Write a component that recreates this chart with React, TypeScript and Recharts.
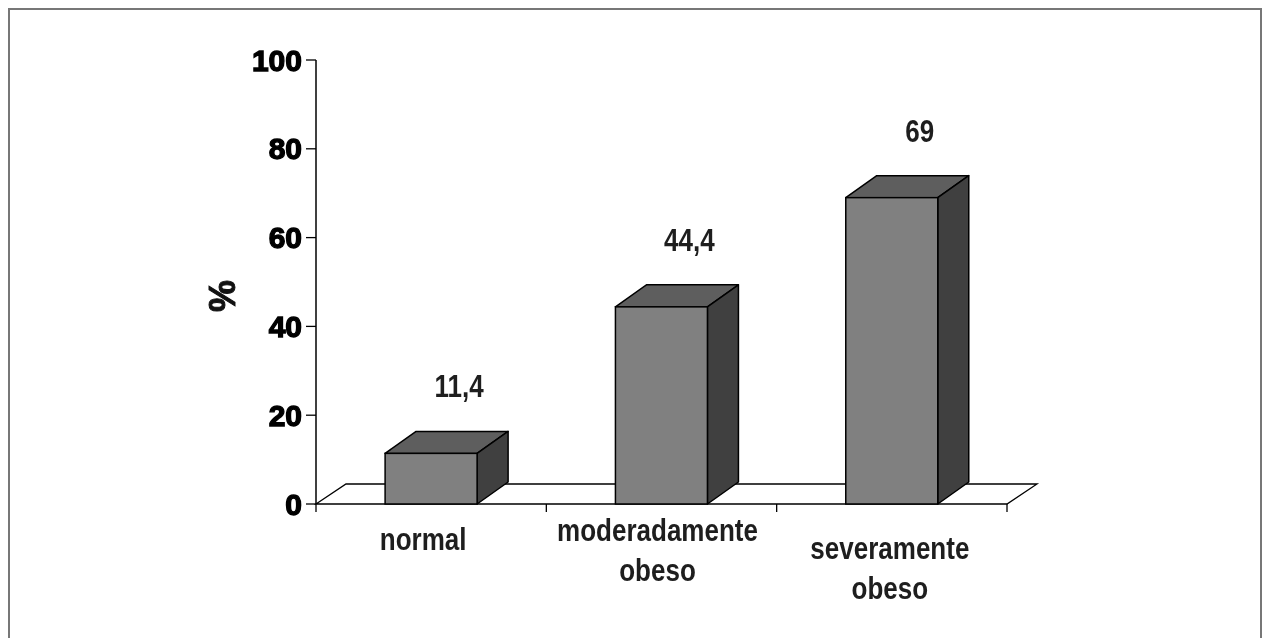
import React from 'react'
import * as R from 'recharts'

const { BarChart, Bar, XAxis, YAxis, LabelList } = R

// percentual por categoria de peso
const categories = ['normal', 'moderadamente obeso', 'severamente obeso']
const percentages = [11.4, 44.4, 69]
const yTicks = [0, 20, 40, 60, 80, 100]

const data = categories.map((name, i) => ({ name, value: percentages[i] }))

const W = 1250
const H = 622
const MARGIN = { top: 52, right: 251, bottom: 16, left: 208 }
const Y_AXIS_W = 100
const X_AXIS_H = 110

// profundidade do efeito 3D (barras e piso)
const DEPTH = { dx: 31, dy: -22 }
const FLOOR = { dx: 30, dy: -20 }

const FACE = '#808080'
const TOP = '#5e5e5e'
const SIDE = '#404040'
const EDGE = '#000'

const SANS = "'Liberation Sans', Arial, sans-serif"
// fonte estreita simulada com escala horizontal
const NARROW_SCALE = 0.84

// ajuste fino dos rótulos de categoria
const LABEL_NUDGE = [
  { dx: -8, dy: 0 },
  { dx: -4, dy: -9 },
  { dx: -2, dy: 9 },
]

const usePlot: () => any = (R as any).usePlotArea ?? (() => null)

function Floor() {
  const area = usePlot()
  const left = area?.x ?? MARGIN.left + Y_AXIS_W
  const top = area?.y ?? MARGIN.top
  const width = area?.width ?? W - MARGIN.left - Y_AXIS_W - MARGIN.right
  const height = area?.height ?? H - MARGIN.top - MARGIN.bottom - X_AXIS_H
  const bottom = top + height
  const right = left + width
  const pts = [
    [left, bottom],
    [left + FLOOR.dx, bottom + FLOOR.dy],
    [right + FLOOR.dx, bottom + FLOOR.dy],
    [right, bottom],
  ]
    .map((p) => p.join(','))
    .join(' ')
  const marks = [0, 1, 2, 3].map((i) => left + (i * width) / 3)
  return (
    <g>
      <polygon points={pts} fill="#fff" stroke={EDGE} strokeWidth={1.3} />
      {marks.map((mx, i) => (
        <line key={i} x1={mx} x2={mx} y1={bottom} y2={bottom + 8} stroke={EDGE} strokeWidth={1.3} />
      ))}
    </g>
  )
}

function Box3D(props: any) {
  const { x, y, width, height } = props
  if (width == null || height == null) return null
  const { dx, dy } = DEPTH
  const b = y + height
  const r = x + width
  return (
    <g>
      <polygon
        points={`${x},${y} ${x + dx},${y + dy} ${r + dx},${y + dy} ${r},${y}`}
        fill={TOP}
        stroke={EDGE}
        strokeWidth={1.5}
        strokeLinejoin="round"
      />
      <polygon
        points={`${r},${y} ${r + dx},${y + dy} ${r + dx},${b + dy} ${r},${b}`}
        fill={SIDE}
        stroke={EDGE}
        strokeWidth={1.5}
        strokeLinejoin="round"
      />
      <rect x={x} y={y} width={width} height={height} fill={FACE} stroke={EDGE} strokeWidth={1.5} />
    </g>
  )
}

function NarrowText({ x, y, lines, gap = 40 }: { x: number; y: number; lines: string[]; gap?: number }) {
  return (
    <g transform={`translate(${x},${y}) scale(${NARROW_SCALE},1)`}>
      <text x={0} y={0} textAnchor="middle" fontFamily={SANS} fontWeight={700} fontSize={31} fill="#1e1e1e">
        {lines.map((l, i) => (
          <tspan key={i} x={0} dy={i === 0 ? 0 : gap}>
            {l}
          </tspan>
        ))}
      </text>
    </g>
  )
}

function ValueLabel(props: any) {
  const { x, y, width, value } = props
  return <NarrowText x={x + width / 2 + 28} y={y - 56} lines={[String(value).replace('.', ',')]} />
}

function CategoryTick(props: any) {
  const { x, y, payload, index } = props
  const lines: string[] = String(payload.value).split(' ')
  const n = LABEL_NUDGE[index] ?? { dx: 0, dy: 0 }
  return <NarrowText x={x + n.dx} y={y + 46 + n.dy} lines={lines} />
}

function PercentLabel(props: any) {
  const vb = props.viewBox ?? { x: MARGIN.left, y: MARGIN.top, width: Y_AXIS_W, height: 444 }
  const cx = vb.x + 6
  const cy = vb.y + vb.height / 2 + 14
  return (
    <text
      x={cx}
      y={cy}
      transform={`rotate(-90 ${cx} ${cy})`}
      textAnchor="middle"
      dominantBaseline="central"
      fontFamily={SANS}
      fontWeight={700}
      fontSize={36}
      fill="#111"
      stroke="#111"
      strokeWidth={1}
    >
      %
    </text>
  )
}

export default function App() {
  return (
    <div style={{ position: 'relative', width: W, height: H }}>
      <div
        style={{
          position: 'fixed',
          left: 8,
          top: 8,
          width: 1254,
          height: 640,
          border: '2px solid #777',
          boxSizing: 'border-box',
          pointerEvents: 'none',
        }}
      />
      <BarChart width={W} height={H} data={data} margin={MARGIN} barCategoryGap="30%">
        <Floor />
        <XAxis
          dataKey="name"
          axisLine={false}
          tickLine={false}
          tickSize={0}
          tickMargin={0}
          interval={0}
          height={X_AXIS_H}
          tick={<CategoryTick />}
        />
        <YAxis
          width={Y_AXIS_W}
          domain={[0, 100]}
          ticks={yTicks}
          interval={0}
          tickSize={10}
          tickMargin={4}
          axisLine={{ stroke: EDGE, strokeWidth: 1.5 }}
          tickLine={{ stroke: EDGE, strokeWidth: 1.3 }}
          tick={{ fontSize: 30, fontWeight: 700, fill: '#000', fontFamily: SANS, stroke: '#000', strokeWidth: 1.3 }}
          label={{ content: PercentLabel }}
        />
        <Bar dataKey="value" shape={<Box3D />} isAnimationActive={false}>
          <LabelList dataKey="value" content={<ValueLabel />} />
        </Bar>
      </BarChart>
    </div>
  )
}
